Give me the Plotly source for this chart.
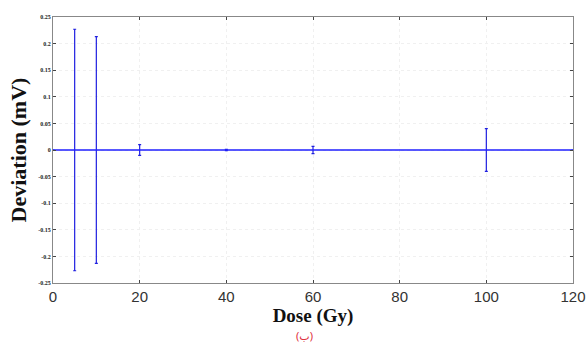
import plotly.graph_objects as go

dose = [0, 5, 10, 20, 40, 60, 100, 120]
deviation = [0, 0, 0, 0, 0, 0, 0, 0]
err = [0, 0.227, 0.213, 0.010, 0.001, 0.007, 0.040, 0]

y_ticks = [0.25, 0.2, 0.15, 0.1, 0.05, 0, -0.05, -0.1, -0.15, -0.2, -0.25]
y_labels = ["<b>%s</b>" % s for s in ["0.25", "0.2", "0.15", "0.1", "0.05", "0", "-0.05", "-0.1", "-0.15", "-0.2", "-0.25"]]
x_ticks = [0, 20, 40, 60, 80, 100, 120]

fig = go.Figure()
fig.add_trace(go.Scatter(
    x=dose, y=deviation, mode="lines",
    line=dict(color="#2020ff", width=1.5),
    error_y=dict(type="data", array=err, visible=True, color="#2020e0", thickness=1.2, width=1.5),
    showlegend=False,
))

fig.update_layout(
    width=587, height=344,
    margin=dict(l=53, r=14, t=17, b=61),
    paper_bgcolor="white", plot_bgcolor="white",
    xaxis=dict(
        range=[0, 120], tickvals=x_ticks, ticks="inside", ticklen=3, automargin=False,
        showline=True, linecolor="#888888", linewidth=1, mirror="ticks",
        showgrid=True, gridcolor="#f0f0f0", griddash="dot", zeroline=False,
        tickfont=dict(family="Liberation Sans, Arial", size=15, color="#333"),
        title=dict(text="<b>Dose (Gy)</b>", font=dict(family="Liberation Serif, Times New Roman", size=19, color="#111"), standoff=2),
    ),
    yaxis=dict(
        range=[-0.25, 0.25], tickvals=y_ticks, ticktext=y_labels, ticks="inside", ticklen=3, automargin=False,
        showline=True, linecolor="#888888", linewidth=1, mirror="ticks",
        showgrid=True, gridcolor="#f0f0f0", griddash="dot", zeroline=False,
        tickfont=dict(family="Liberation Serif, Times New Roman", size=6, color="#222"),
        title=dict(text="<b>Deviation (mV)</b>", font=dict(family="Liberation Serif, Times New Roman", size=22, color="#111"), standoff=5),
    ),
    annotations=[dict(
        text="(ب)", x=0.5, y=0, xref="paper", yref="paper", yanchor="top",
        yshift=-43, xshift=-9, showarrow=False,
        font=dict(family="Noto Sans, DejaVu Sans", size=11, color="#e03040"),
    )],
)

fig.write_html("out.html")
